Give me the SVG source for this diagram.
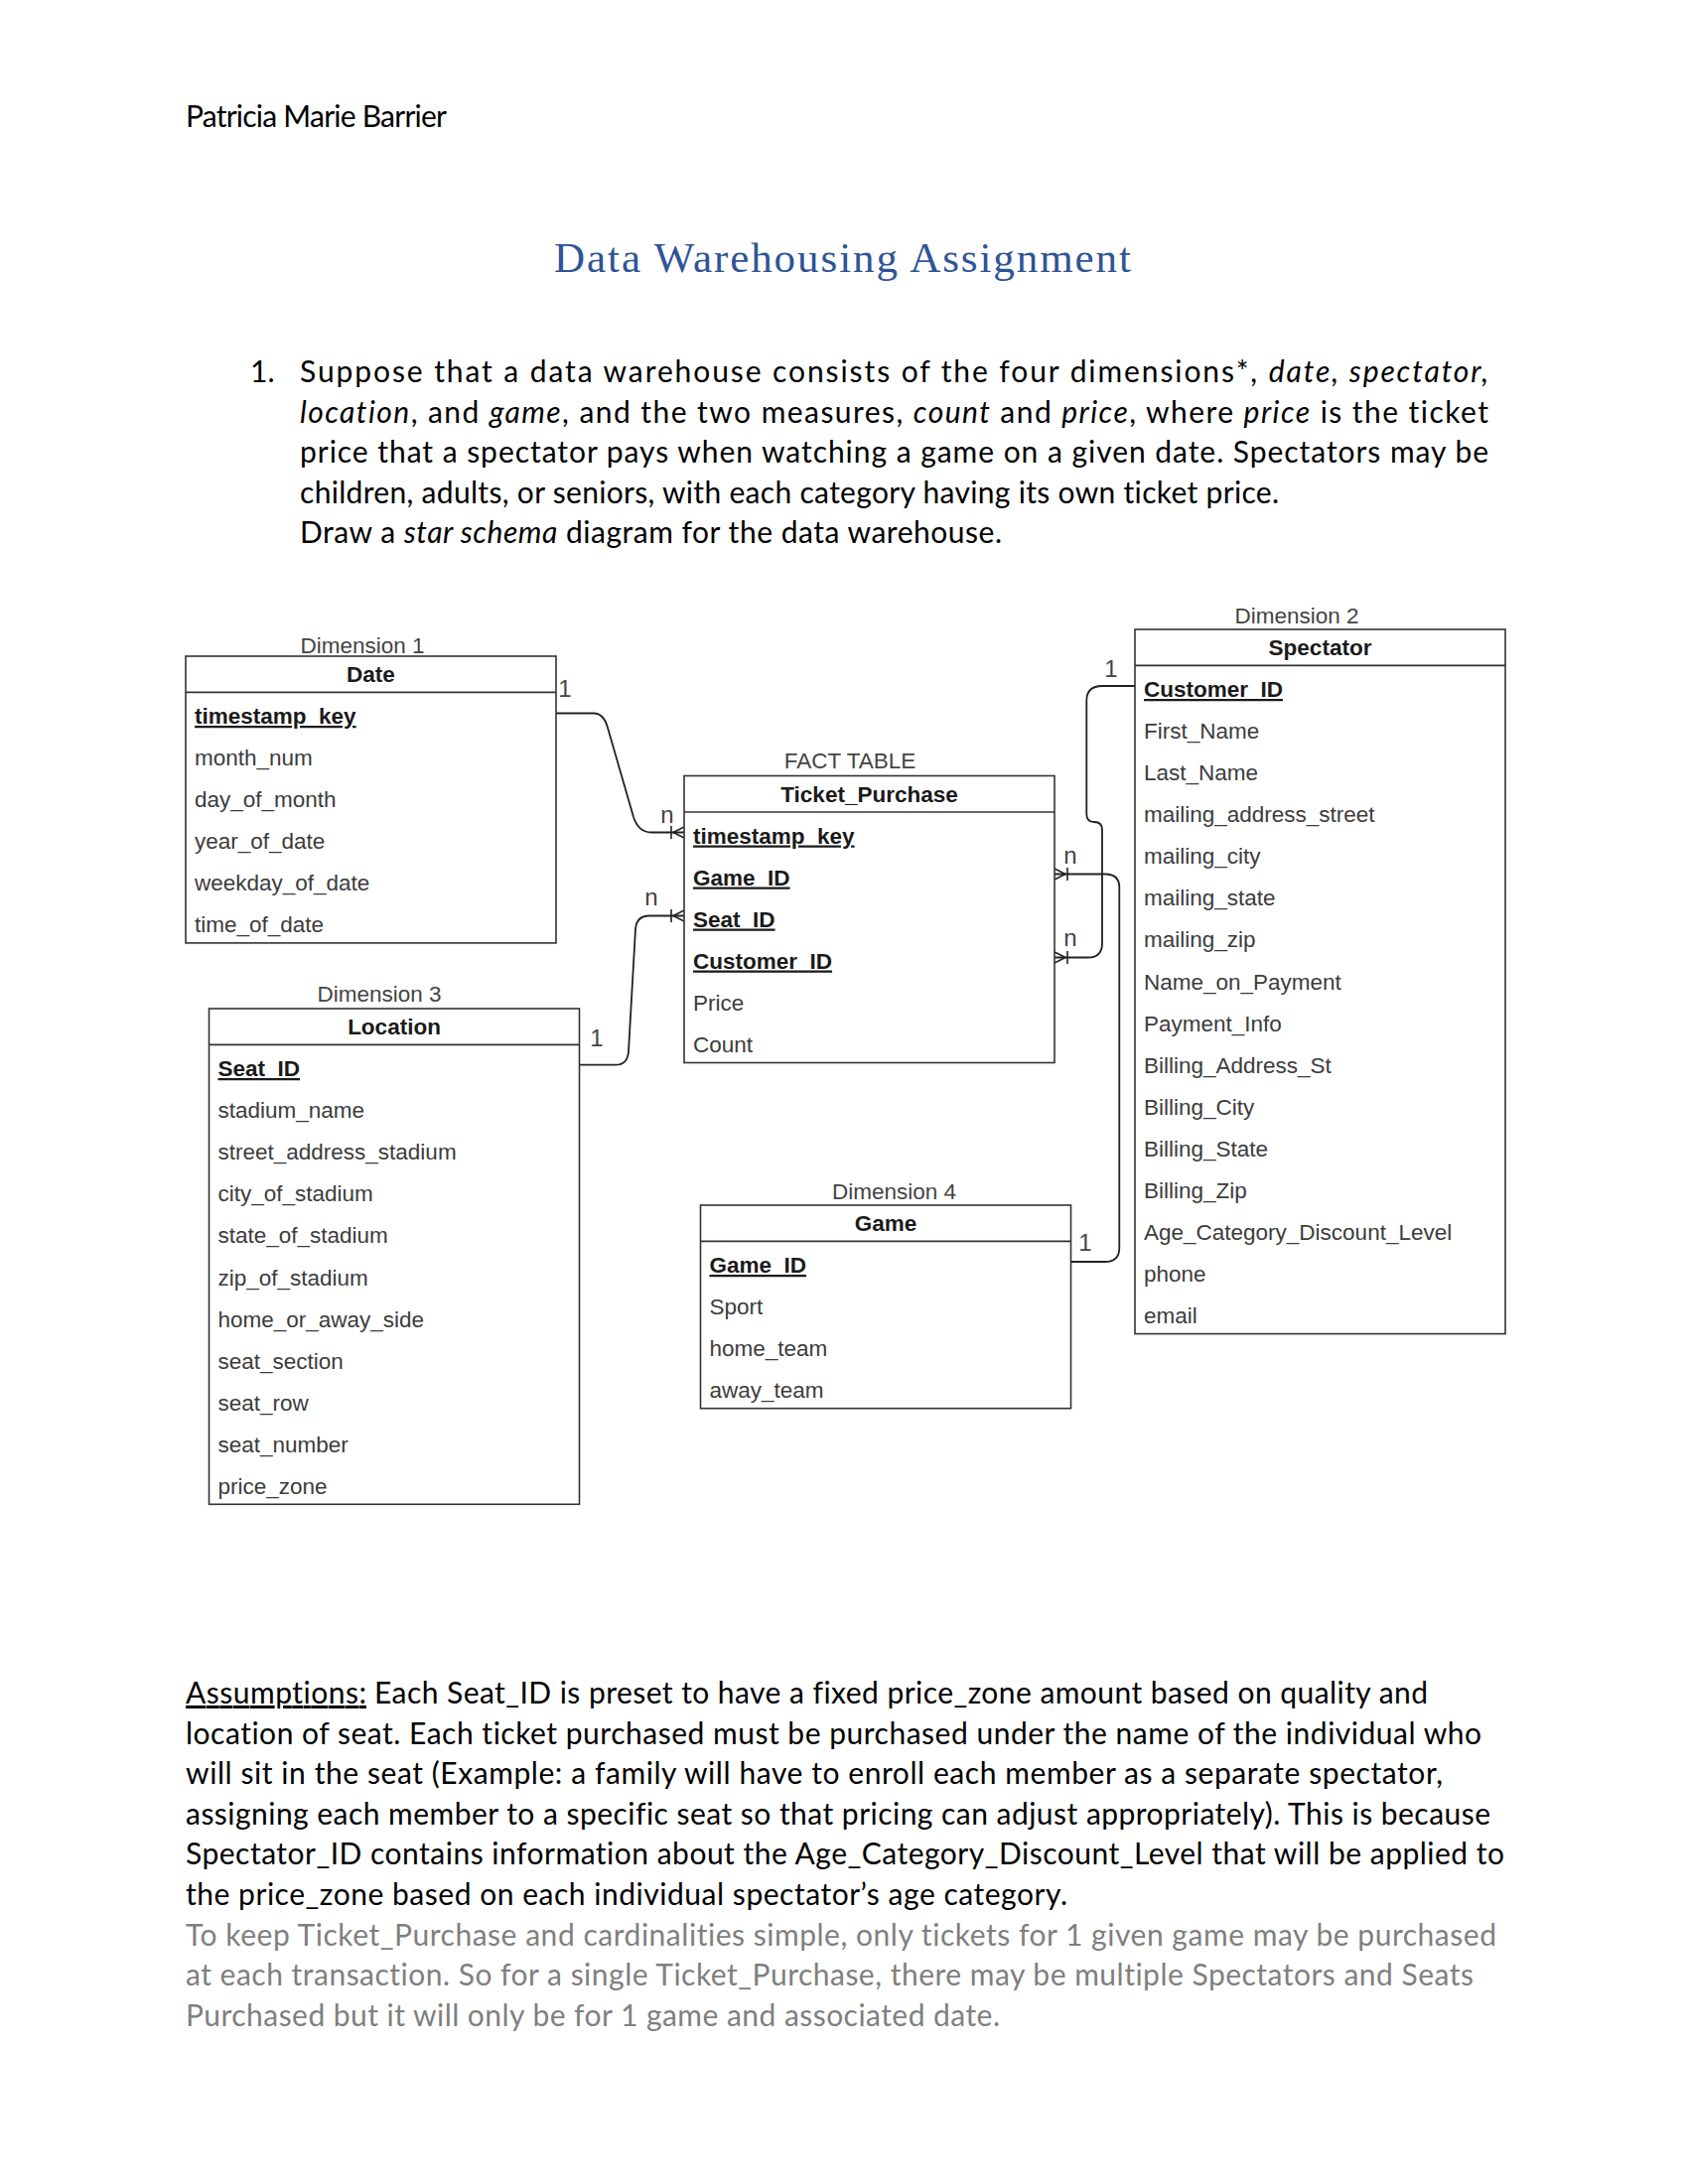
<svg xmlns="http://www.w3.org/2000/svg" width="1700" height="2200" viewBox="0 0 1700 2200">
<style>
.doc{font-family:Lato,"Open Sans","Liberation Sans",sans-serif;font-size:30px;fill:#000;font-variant-ligatures:none}
.gray{fill:#7f7f7f}
.it{font-style:italic}
.box{fill:#fff;stroke:#333;stroke-width:1.6}
.sep{stroke:#333;stroke-width:1.6}
.hdr{font-family:"Liberation Sans",Arial,sans-serif;font-size:22.5px;font-weight:bold;fill:#1a1a1a;text-anchor:middle}
.attr{font-family:"Liberation Sans",Arial,sans-serif;font-size:22.5px;fill:#3c3c3c}
.key{font-weight:bold;fill:#1a1a1a;text-decoration:underline}
.dim{font-family:"Liberation Sans",Arial,sans-serif;font-size:22.5px;fill:#444;text-anchor:middle}
.card{font-family:"Liberation Sans",Arial,sans-serif;font-size:24px;fill:#444;text-anchor:middle}
.conn{fill:none;stroke:#222;stroke-width:1.8}
</style>
<defs>
<marker id="many" markerUnits="userSpaceOnUse" viewBox="-16 -10 20 20" refX="0" refY="0" markerWidth="20" markerHeight="20" orient="auto">
<path d="M-11,0 L0,-5.5 M-11,0 L0,5.5 M-13,-6.5 L-13,6.5" fill="none" stroke="#222" stroke-width="1.6"/>
</marker>
</defs>
<rect width="1700" height="2200" fill="#fff"/>

<g id="page-text">
<text class="doc" x="187" y="128" font-size="25" textLength="263" lengthAdjust="spacing">Patricia Marie Barrier</text>
<text x="558" y="274" font-family="'Liberation Serif','Noto Serif',serif" font-size="43" fill="#2F5496" textLength="581" lengthAdjust="spacing">Data Warehousing Assignment</text>
<text class="doc" x="252" y="385">1.</text>
<text class="doc" x="302" y="385" textLength="1197" lengthAdjust="spacing">Suppose that a data warehouse consists of the four dimensions*, <tspan class="it">date, spectator,</tspan></text>
<text class="doc" x="302" y="425.5" textLength="1197" lengthAdjust="spacing"><tspan class="it">location</tspan>, and <tspan class="it">game</tspan>, and the two measures, <tspan class="it">count</tspan> and <tspan class="it">price</tspan>, where <tspan class="it">price</tspan> is the ticket</text>
<text class="doc" x="302" y="466" textLength="1197" lengthAdjust="spacing">price that a spectator pays when watching a game on a given date. Spectators may be</text>
<text class="doc" x="302" y="506.5" textLength="986" lengthAdjust="spacing">children, adults, or seniors, with each category having its own ticket price.</text>
<text class="doc" x="302" y="547" textLength="707" lengthAdjust="spacing">Draw a <tspan class="it">star schema</tspan> diagram for the data warehouse.</text>

<text class="doc" x="187" y="1716" textLength="182" lengthAdjust="spacing" text-decoration="underline">Assumptions:</text>
<text class="doc" x="377" y="1716" textLength="1061" lengthAdjust="spacing">Each Seat_ID is preset to have a fixed price_zone amount based on quality and</text>
<text class="doc" x="187" y="1756.6" textLength="1305" lengthAdjust="spacing">location of seat. Each ticket purchased must be purchased under the name of the individual who</text>
<text class="doc" x="187" y="1797.2" textLength="1266" lengthAdjust="spacing">will sit in the seat (Example: a family will have to enroll each member as a separate spectator,</text>
<text class="doc" x="187" y="1837.8" textLength="1314" lengthAdjust="spacing">assigning each member to a specific seat so that pricing can adjust appropriately). This is because</text>
<text class="doc" x="187" y="1878.4" textLength="1328" lengthAdjust="spacing">Spectator_ID contains information about the Age_Category_Discount_Level that will be applied to</text>
<text class="doc" x="187" y="1919" textLength="888" lengthAdjust="spacing">the price_zone based on each individual spectator’s age category.</text>
<text class="doc gray" x="187" y="1959.6" textLength="1320" lengthAdjust="spacing">To keep Ticket_Purchase and cardinalities simple, only tickets for 1 given game may be purchased</text>
<text class="doc gray" x="187" y="2000.2" textLength="1297" lengthAdjust="spacing">at each transaction. So for a single Ticket_Purchase, there may be multiple Spectators and Seats</text>
<text class="doc gray" x="187" y="2040.8" textLength="820" lengthAdjust="spacing">Purchased but it will only be for 1 game and associated date.</text>
</g>

<g id="connectors">
<path class="conn" d="M560,718.5 L598,718.5 Q608,718.5 612,733 L638,823 Q643,838.5 656,838.5 L689,838.5" marker-end="url(#many)"/>
<path class="conn" d="M583.5,1072.7 L620,1072.7 Q632,1072.7 633,1059 L640,936 Q641,922.5 654,922.5 L689,922.5" marker-end="url(#many)"/>
<path class="conn" d="M1143,691 L1110,691 Q1094.3,691 1094.3,706 L1094.3,820 Q1094.3,828 1102,828 Q1110,828 1110,836 L1110,950 Q1110,964.5 1096,964.5 L1062,964.5" marker-end="url(#many)"/>
<path class="conn" d="M1078.5,1271 L1113,1271 Q1127.3,1271 1127.3,1257 L1127.3,894 Q1127.3,880.5 1113,880.5 L1062,880.5" marker-end="url(#many)"/>
</g>

<g id="cardinalities">
<text class="card" x="569" y="702">1</text>
<text class="card" x="672" y="829">n</text>
<text class="card" x="656" y="912">n</text>
<text class="card" x="601" y="1054">1</text>
<text class="card" x="1119" y="682">1</text>
<text class="card" x="1078" y="870">n</text>
<text class="card" x="1078" y="953">n</text>
<text class="card" x="1093" y="1260">1</text>
</g>

<g id="node-date">
<text class="dim" x="365" y="658">Dimension 1</text>
<rect class="box" x="187" y="661" width="373" height="288.9"/>
<line class="sep" x1="187" y1="697.4" x2="560" y2="697.4"/>
<text class="hdr" x="373.5" y="687.2">Date</text>
<text class="attr key" x="196" y="729">timestamp_key</text>
<text class="attr" x="196" y="771">month_num</text>
<text class="attr" x="196" y="813">day_of_month</text>
<text class="attr" x="196" y="855">year_of_date</text>
<text class="attr" x="196" y="897">weekday_of_date</text>
<text class="attr" x="196" y="939">time_of_date</text>
</g>

<g id="node-fact">
<text class="dim" x="856" y="774">FACT TABLE</text>
<rect class="box" x="689" y="781.5" width="373" height="289"/>
<line class="sep" x1="689" y1="818" x2="1062" y2="818"/>
<text class="hdr" x="875.5" y="807.7">Ticket_Purchase</text>
<text class="attr key" x="698" y="849.5">timestamp_key</text>
<text class="attr key" x="698" y="891.5">Game_ID</text>
<text class="attr key" x="698" y="933.5">Seat_ID</text>
<text class="attr key" x="698" y="975.5">Customer_ID</text>
<text class="attr" x="698" y="1017.5">Price</text>
<text class="attr" x="698" y="1059.5">Count</text>
</g>

<g id="node-spectator">
<text class="dim" x="1306" y="628">Dimension 2</text>
<rect class="box" x="1143" y="634" width="373" height="709.6"/>
<line class="sep" x1="1143" y1="670.4" x2="1516" y2="670.4"/>
<text class="hdr" x="1329.5" y="660.2">Spectator</text>
<text class="attr key" x="1152" y="702">Customer_ID</text>
<text class="attr" x="1152" y="744">First_Name</text>
<text class="attr" x="1152" y="786">Last_Name</text>
<text class="attr" x="1152" y="828">mailing_address_street</text>
<text class="attr" x="1152" y="870">mailing_city</text>
<text class="attr" x="1152" y="912">mailing_state</text>
<text class="attr" x="1152" y="954">mailing_zip</text>
<text class="attr" x="1152" y="996.5">Name_on_Payment</text>
<text class="attr" x="1152" y="1038.5">Payment_Info</text>
<text class="attr" x="1152" y="1080.5">Billing_Address_St</text>
<text class="attr" x="1152" y="1122.5">Billing_City</text>
<text class="attr" x="1152" y="1164.5">Billing_State</text>
<text class="attr" x="1152" y="1206.5">Billing_Zip</text>
<text class="attr" x="1152" y="1249">Age_Category_Discount_Level</text>
<text class="attr" x="1152" y="1291">phone</text>
<text class="attr" x="1152" y="1333">email</text>
</g>

<g id="node-location">
<text class="dim" x="382" y="1009">Dimension 3</text>
<rect class="box" x="210.5" y="1016" width="373" height="499.3"/>
<line class="sep" x1="210.5" y1="1052.4" x2="583.5" y2="1052.4"/>
<text class="hdr" x="397" y="1042.2">Location</text>
<text class="attr key" x="219.5" y="1084">Seat_ID</text>
<text class="attr" x="219.5" y="1126">stadium_name</text>
<text class="attr" x="219.5" y="1168">street_address_stadium</text>
<text class="attr" x="219.5" y="1210">city_of_stadium</text>
<text class="attr" x="219.5" y="1252">state_of_stadium</text>
<text class="attr" x="219.5" y="1294.5">zip_of_stadium</text>
<text class="attr" x="219.5" y="1336.5">home_or_away_side</text>
<text class="attr" x="219.5" y="1378.5">seat_section</text>
<text class="attr" x="219.5" y="1420.5">seat_row</text>
<text class="attr" x="219.5" y="1462.5">seat_number</text>
<text class="attr" x="219.5" y="1504.5">price_zone</text>
</g>

<g id="node-game">
<text class="dim" x="900.5" y="1208">Dimension 4</text>
<rect class="box" x="705.5" y="1214" width="373" height="204.7"/>
<line class="sep" x1="705.5" y1="1250.4" x2="1078.5" y2="1250.4"/>
<text class="hdr" x="892" y="1240.2">Game</text>
<text class="attr key" x="714.5" y="1282">Game_ID</text>
<text class="attr" x="714.5" y="1324">Sport</text>
<text class="attr" x="714.5" y="1366">home_team</text>
<text class="attr" x="714.5" y="1408">away_team</text>
</g>
</svg>
